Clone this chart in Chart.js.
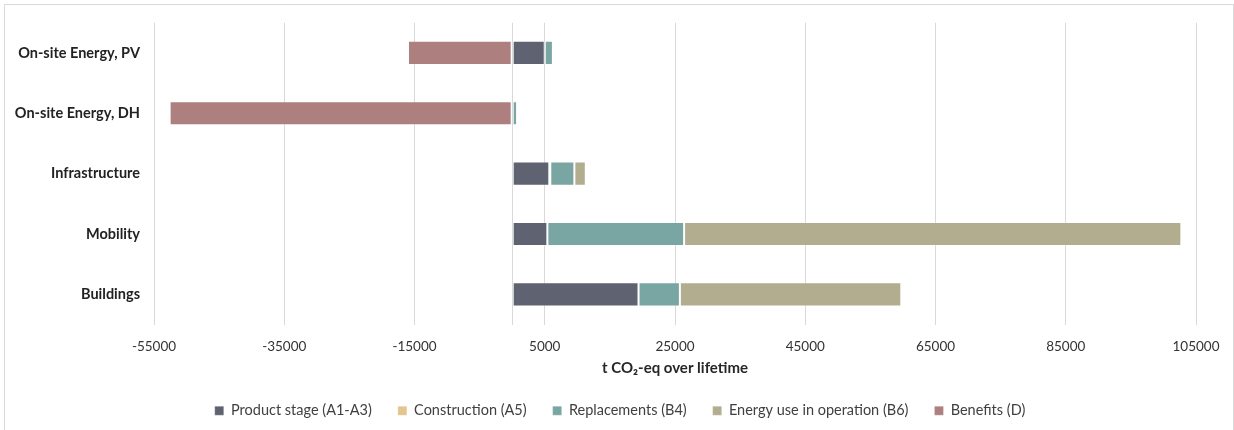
<!DOCTYPE html>
<html>
<head>
<meta charset="utf-8">
<script src="https://cdn.jsdelivr.net/npm/chart.js@4.4.1/dist/chart.umd.min.js"></script>
<style>
  html, body { margin: 0; padding: 0; background: #ffffff; }
  #wrap { width: 1234px; height: 430px; position: relative; }
</style>
</head>
<body>
<div id="wrap"><canvas id="chart" width="1234" height="430"></canvas></div>
<script>
// Life-cycle emissions per area, t CO2-eq over lifetime
const categories = ['On-site Energy, PV', 'On-site Energy, DH', 'Infrastructure', 'Mobility', 'Buildings'];

const productStage = [5000, 0, 5700, 5400, 19400];      // A1-A3
const construction = [0, 0, 150, 0, 0];                 // A5
const replacements = [1250, 750, 3700, 21000, 6350];    // B4
const energyUse    = [0, 0, 1750, 76350, 34000];        // B6
const benefits     = [-16000, -52600, 0, 0, 0];         // D

const tickValues = [-55000, -35000, -15000, 5000, 25000, 45000, 65000, 85000, 105000];
const tickLabels = ['-55000', '-35000', '-15000', '5000', '25000', '45000', '65000', '85000', '105000'];

const FONT = 'Lato, "Open Sans", sans-serif';

// light frame around the whole chart
const framePlugin = {
  id: 'frame',
  beforeDraw(chart) {
    const ctx = chart.ctx;
    ctx.save();
    ctx.fillStyle = '#ffffff';
    ctx.fillRect(0, 0, chart.width, chart.height);
    ctx.strokeStyle = '#d9d9d9';
    ctx.lineWidth = 1;
    ctx.strokeRect(4.5, 4.5, 1229, 440);
    ctx.restore();
  }
};

// centre the legend on the full frame rather than on the padded layout box
const legendShift = {
  id: 'legendShift',
  afterLayout(chart) {
    const lg = chart.legend;
    if (lg) { lg.left += 22; lg.right += 22; }
  }
};

function ds(label, data, color) {
  return {
    label, data,
    backgroundColor: color,
    borderColor: 'rgba(255,255,255,0.25)',
    borderWidth: 1,
    borderSkipped: false,
    categoryPercentage: 1.0,
    barPercentage: 0.4
  };
}

new Chart(document.getElementById('chart'), {
  type: 'bar',
  data: {
    labels: categories,
    datasets: [
      ds('Product stage (A1-A3)', productStage, '#5f6271'),
      ds('Construction (A5)', construction, '#e2c58f'),
      ds('Replacements (B4)', replacements, '#79a6a2'),
      ds('Energy use in operation (B6)', energyUse, '#b1ad8e'),
      ds('Benefits (D)', benefits, '#ad7f7f')
    ]
  },
  options: {
    indexAxis: 'y',
    responsive: false,
    animation: false,
    layout: { padding: { top: 19, right: 38, bottom: 2, left: 0 } },
    scales: {
      x: {
        stacked: true,
        min: -55000,
        max: 105000,
        afterBuildTicks(scale) {
          scale.ticks = tickValues.concat([0]).sort((a, b) => a - b).map(v => ({ value: v }));
        },
        grid: { color: '#d9d9d9', lineWidth: 1, drawTicks: false },
        border: { display: false },
        ticks: {
          autoSkip: false,
          maxRotation: 0,
          padding: 14,
          color: '#333333',
          font: { family: FONT, size: 13.5 },
          callback(value) {
            const i = tickValues.indexOf(value);
            return i >= 0 ? tickLabels[i] : '';
          }
        },
        title: {
          display: true,
          text: 't CO\u2082-eq over lifetime',
          color: '#262626',
          font: { family: FONT, size: 15, weight: 'bold' },
          padding: { top: 4, bottom: 0 }
        },
        afterFit(scale) { scale.height = 53; }
      },
      y: {
        stacked: true,
        grid: { display: false, drawTicks: false },
        border: { display: false },
        ticks: {
          padding: 14,
          color: '#222222',
          font: { family: FONT, size: 14.5, weight: 'bold' }
        },
        afterFit(scale) { scale.width = 154; }
      }
    },
    plugins: {
      legend: {
        position: 'bottom',
        labels: {
          boxWidth: 9,
          boxHeight: 9,
          padding: 26,
          color: '#404040',
          font: { family: FONT, size: 14.5 }
        }
      },
      tooltip: { enabled: false }
    }
  },
  plugins: [framePlugin, legendShift]
});
</script>
</body>
</html>
